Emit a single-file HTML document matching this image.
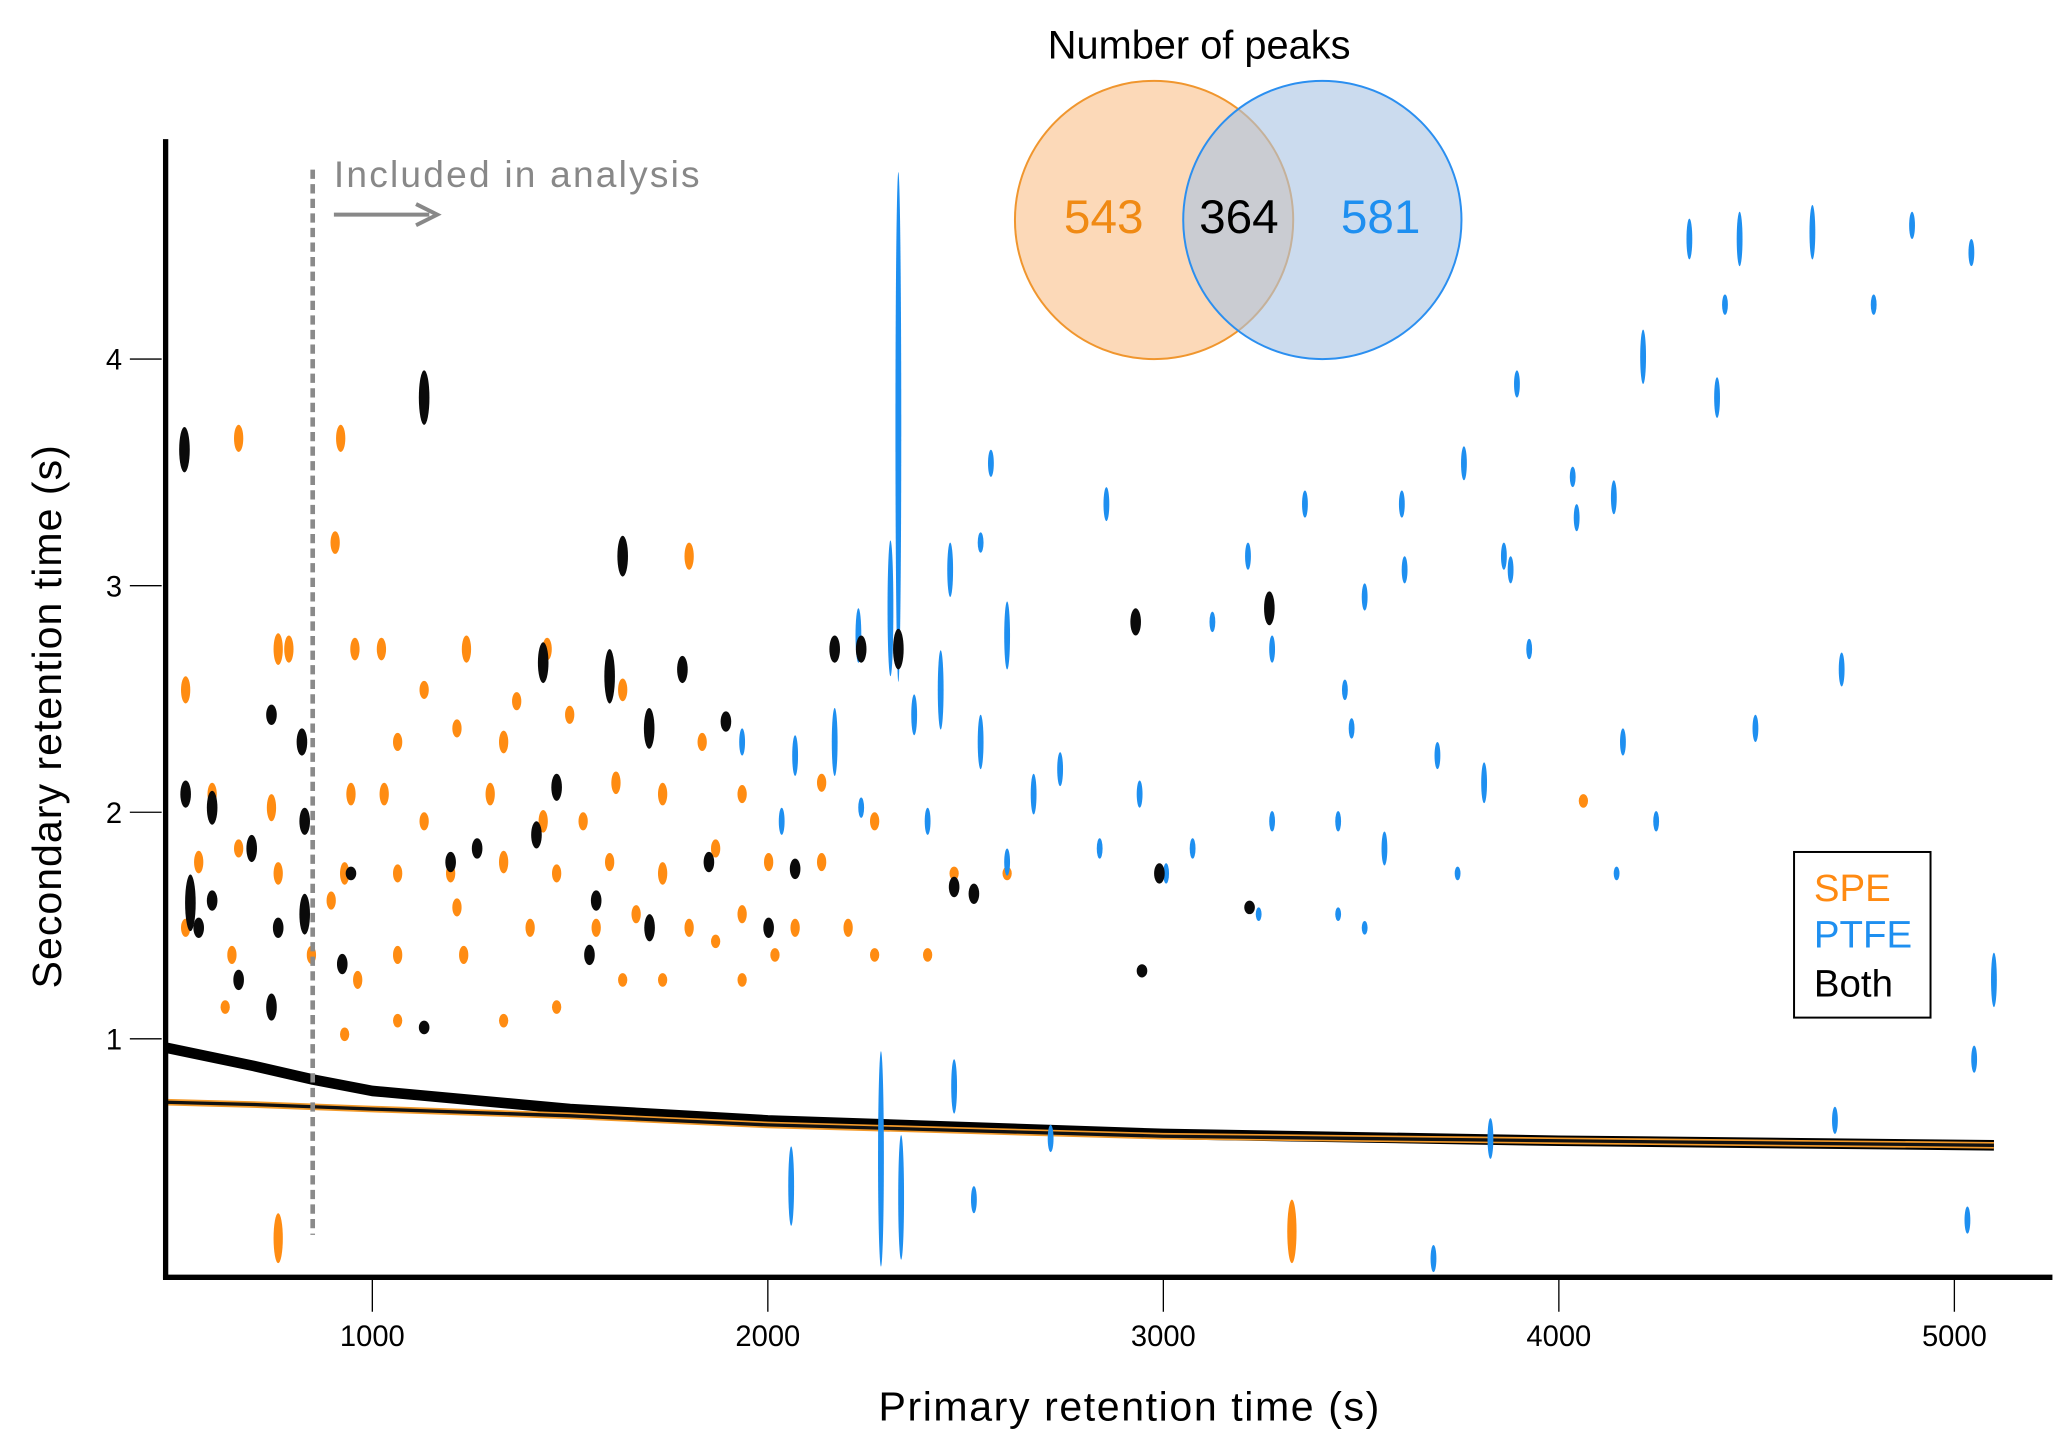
<!DOCTYPE html>
<html><head><meta charset="utf-8">
<style>
html,body{margin:0;padding:0;background:#fff;}
svg{display:block;}
text{font-family:"Liberation Sans",sans-serif;}
</style></head>
<body>
<svg id="chart" xmlns="http://www.w3.org/2000/svg" width="2067" height="1453" viewBox="0 0 1560 1096.6" preserveAspectRatio="none">
  <rect x="0" y="0" width="1560" height="1097" fill="#fff"/>
  <g id="baseline"></g>
  <g id="marks"></g>
  <line x1="236" y1="128" x2="236" y2="932" stroke="#8a8a8a" stroke-width="3.5" stroke-dasharray="7,4"/>
  <text x="252" y="141" font-size="28" fill="#888" textLength="276">Included in analysis</text>
  <g>
    <line x1="252" y1="162" x2="324" y2="162" stroke="#888" stroke-width="3"/>
    <polyline points="314,154 330,162 314,170" fill="none" stroke="#888" stroke-width="3"/>
  </g>
  <line x1="125" y1="105" x2="125" y2="965" stroke="#000" stroke-width="4"/>
  <line x1="123" y1="964" x2="1549" y2="964" stroke="#000" stroke-width="4"/>
  <g id="xticks"></g>
  <g id="yticks"></g>
  <text x="852" y="1072" font-size="31" text-anchor="middle" textLength="378">Primary retention time (s)</text>
  <text transform="translate(46,541) rotate(-90)" font-size="31" text-anchor="middle" textLength="410">Secondary retention time (s)</text>
  <text x="905" y="44" font-size="30" text-anchor="middle">Number of peaks</text>
  <circle cx="871" cy="166" r="105" fill="#fcd9b8" stroke="#f0962e" stroke-width="1.5"/>
  <circle cx="998" cy="166" r="105" fill="#a9c3e2" fill-opacity="0.6" stroke="#2b8ff0" stroke-width="1.5"/>
  <text x="833" y="176" font-size="36" fill="#f08a14" text-anchor="middle">543</text>
  <text x="935" y="176" font-size="36" fill="#000" text-anchor="middle">364</text>
  <text x="1042" y="176" font-size="36" fill="#1e8ff0" text-anchor="middle">581</text>
  <g>
    <rect x="1354" y="643" width="103" height="125" fill="#fff" stroke="#000" stroke-width="1.5"/>
    <text x="1369" y="680" font-size="29" fill="#ff8a12">SPE</text>
    <text x="1369" y="715" font-size="29" fill="#1e8ff0">PTFE</text>
    <text x="1369" y="752" font-size="29" fill="#000">Both</text>
  </g>
</svg>
<script>
const xTicks = [1000, 2000, 3000, 4000, 5000];
const yTicks = [1, 2, 3, 4];
// peaks: [primary time s, secondary time s, streak length s]
const spePeaks = [[662,3.65,0.12],[920,3.65,0.12],[906,3.19,0.1],[762,2.72,0.14],[789,2.72,0.12],[956,2.72,0.1],[1023,2.72,0.1],[1238,2.72,0.12],[1442,2.72,0.1],[528,2.54,0.12],[1064,2.31,0.08],[1214,2.37,0.08],[1332,2.31,0.1],[1499,2.43,0.08],[1633,2.54,0.1],[1801,3.13,0.12],[595,2.08,0.1],[745,2.02,0.12],[946,2.08,0.1],[1030,2.08,0.1],[1131,1.96,0.08],[1298,2.08,0.1],[1432,1.96,0.1],[1533,1.96,0.08],[1616,2.13,0.1],[1734,2.08,0.1],[1834,2.31,0.08],[1935,2.08,0.08],[561,1.78,0.1],[662,1.84,0.08],[762,1.73,0.1],[930,1.73,0.1],[1064,1.73,0.08],[1198,1.73,0.08],[1332,1.78,0.1],[1466,1.73,0.08],[1600,1.78,0.08],[1734,1.73,0.1],[1868,1.84,0.08],[2002,1.78,0.08],[2136,1.78,0.08],[528,1.49,0.08],[645,1.37,0.08],[846,1.37,0.08],[963,1.26,0.08],[1064,1.37,0.08],[1231,1.37,0.08],[1399,1.49,0.08],[1566,1.49,0.08],[1667,1.55,0.08],[1801,1.49,0.08],[1935,1.55,0.08],[2069,1.49,0.08],[2203,1.49,0.08],[628,1.14,0.06],[930,1.02,0.06],[1064,1.08,0.06],[1332,1.08,0.06],[1466,1.14,0.06],[1633,1.26,0.06],[1734,1.26,0.06],[1935,1.26,0.06],[2270,1.37,0.06],[2404,1.37,0.06],[4062,2.05,0.06],[1131,2.54,0.08],[1365,2.49,0.08],[896,1.61,0.08],[2136,2.13,0.08],[2270,1.96,0.08],[2471,1.73,0.06],[2605,1.73,0.06],[1868,1.43,0.06],[2018,1.37,0.06],[1214,1.58,0.08],[762,0.12,0.22],[3325,0.15,0.28]];
const ptfePeaks = [[2330,3.7,2.25],[2310,2.9,0.6],[2286,0.47,0.95],[2337,0.3,0.55],[2059,0.35,0.35],[4330,4.53,0.18],[4457,4.53,0.24],[4641,4.56,0.24],[4893,4.59,0.12],[5043,4.47,0.12],[4213,4.01,0.24],[4400,3.83,0.18],[3894,3.89,0.12],[4420,4.24,0.09],[4796,4.24,0.09],[3760,3.54,0.15],[3603,3.36,0.12],[3358,3.36,0.12],[4139,3.39,0.15],[4035,3.48,0.09],[3861,3.13,0.12],[3610,3.07,0.12],[3214,3.13,0.12],[3124,2.84,0.09],[2856,3.36,0.15],[2564,3.54,0.12],[2538,3.19,0.09],[2461,3.07,0.24],[2605,2.78,0.3],[3509,2.95,0.12],[3878,3.07,0.12],[4045,3.3,0.12],[3459,2.54,0.09],[3275,2.72,0.12],[3925,2.72,0.09],[4715,2.63,0.15],[4497,2.37,0.12],[4162,2.31,0.12],[3476,2.37,0.09],[3693,2.25,0.12],[3811,2.13,0.18],[3559,1.84,0.15],[3275,1.96,0.09],[3442,1.96,0.09],[3074,1.84,0.09],[2940,2.08,0.12],[2739,2.19,0.15],[2672,2.08,0.18],[2538,2.31,0.24],[2437,2.54,0.35],[2370,2.43,0.18],[2229,2.78,0.24],[2169,2.31,0.3],[2069,2.25,0.18],[1935,2.31,0.12],[2035,1.96,0.12],[2236,2.02,0.09],[2404,1.96,0.12],[2605,1.78,0.12],[2839,1.84,0.09],[3007,1.73,0.09],[3241,1.55,0.06],[3442,1.55,0.06],[3509,1.49,0.06],[3744,1.73,0.06],[4246,1.96,0.09],[4146,1.73,0.06],[5100,1.26,0.24],[4698,0.64,0.12],[3827,0.56,0.18],[2715,0.56,0.12],[2471,0.79,0.24],[3683,0.03,0.12],[5033,0.2,0.12],[5050,0.91,0.12],[2521,0.29,0.12]];
const bothPeaks = [[1131,3.83,0.24],[1600,2.6,0.24],[1633,3.13,0.18],[1432,2.66,0.18],[1700,2.37,0.18],[1784,2.63,0.12],[1894,2.4,0.09],[2169,2.72,0.12],[2236,2.72,0.12],[2330,2.72,0.18],[745,2.43,0.09],[822,2.31,0.12],[528,2.08,0.12],[595,2.02,0.15],[695,1.84,0.12],[829,1.96,0.12],[829,1.55,0.18],[745,1.14,0.12],[595,1.61,0.09],[561,1.49,0.09],[662,1.26,0.09],[924,1.33,0.09],[1131,1.05,0.06],[1198,1.78,0.09],[1265,1.84,0.09],[1415,1.9,0.12],[1466,2.11,0.12],[1566,1.61,0.09],[1549,1.37,0.09],[1701,1.49,0.12],[1851,1.78,0.09],[2002,1.49,0.09],[2069,1.75,0.09],[2471,1.67,0.09],[2521,1.64,0.09],[2930,2.84,0.12],[3268,2.9,0.15],[2990,1.73,0.09],[3218,1.58,0.06],[2946,1.3,0.05],[762,1.49,0.09],[946,1.73,0.06],[525,3.6,0.2],[540,1.6,0.25]];
const baseT = [480, 700, 850, 1000, 1500, 2000, 3000, 4000, 5100];
const baseUpper = [0.96, 0.88, 0.82, 0.77, 0.69, 0.64, 0.58, 0.55, 0.53];
const baseLower = [0.72, 0.71, 0.70, 0.69, 0.66, 0.62, 0.57, 0.55, 0.53];

const NS = 'http://www.w3.org/2000/svg';
function xScale(t){ return 281 + (t - 1000) * 0.2985; }
function yScale(v){ return 784 - (v - 1) * 171; }
function mk(tag, attrs, parent){ const e = document.createElementNS(NS, tag); for (const k in attrs) e.setAttribute(k, attrs[k]); parent.appendChild(e); return e; }

const xt = document.getElementById('xticks');
xTicks.forEach(t => {
  const l = mk('line', {x1: xScale(t), x2: xScale(t), y1: 965, y2: 990, stroke: '#000', 'stroke-width': 1}, xt);
  
  
  const tx = mk('text', {x: xScale(t), y: 1016, 'font-size': 22, 'text-anchor': 'middle'}, xt);
  tx.textContent = t;
  
  
});
const yt = document.getElementById('yticks');
yTicks.forEach(v => {
  const l = mk('line', {x1: 98, x2: 122, y1: yScale(v), y2: yScale(v), stroke: '#000', 'stroke-width': 1}, yt);
  
  
  const tx = mk('text', {x: 86, y: yScale(v) + 8, 'font-size': 22, 'text-anchor': 'middle'}, yt);
  tx.textContent = v;
  
  
});

const bl = document.getElementById('baseline');
function linePts(arr){ return baseT.map((t,i) => xScale(t) + ',' + yScale(arr[i])).join(' '); }
const bu = mk('polyline', {points: linePts(baseUpper), fill: 'none', stroke: '#000', 'stroke-width': 8, 'stroke-linejoin': 'round'}, bl);


const bo = mk('polyline', {points: linePts(baseLower), fill: 'none', stroke: '#f39a2a', 'stroke-width': 5}, bl);


const bk = mk('polyline', {points: linePts(baseLower), fill: 'none', stroke: '#111', 'stroke-width': 2.5}, bl);



const marks = document.getElementById('marks');
function drawPeaks(arr, color, rx, name){
  arr.forEach((p, i) => {
    const ry = Math.max(5, p[2] * 171 / 2);
    const e = mk('ellipse', {cx: xScale(p[0]), cy: yScale(p[1]), rx: rx, ry: ry, fill: color}, marks);
    
    
  });
}
drawPeaks(spePeaks, '#ff8c12', 3.5, 'spe');
drawPeaks(ptfePeaks, '#1e8ff0', 2.2, 'ptfe');
drawPeaks(bothPeaks, '#0a0a0a', 4, 'both');
</script>
</body></html>
